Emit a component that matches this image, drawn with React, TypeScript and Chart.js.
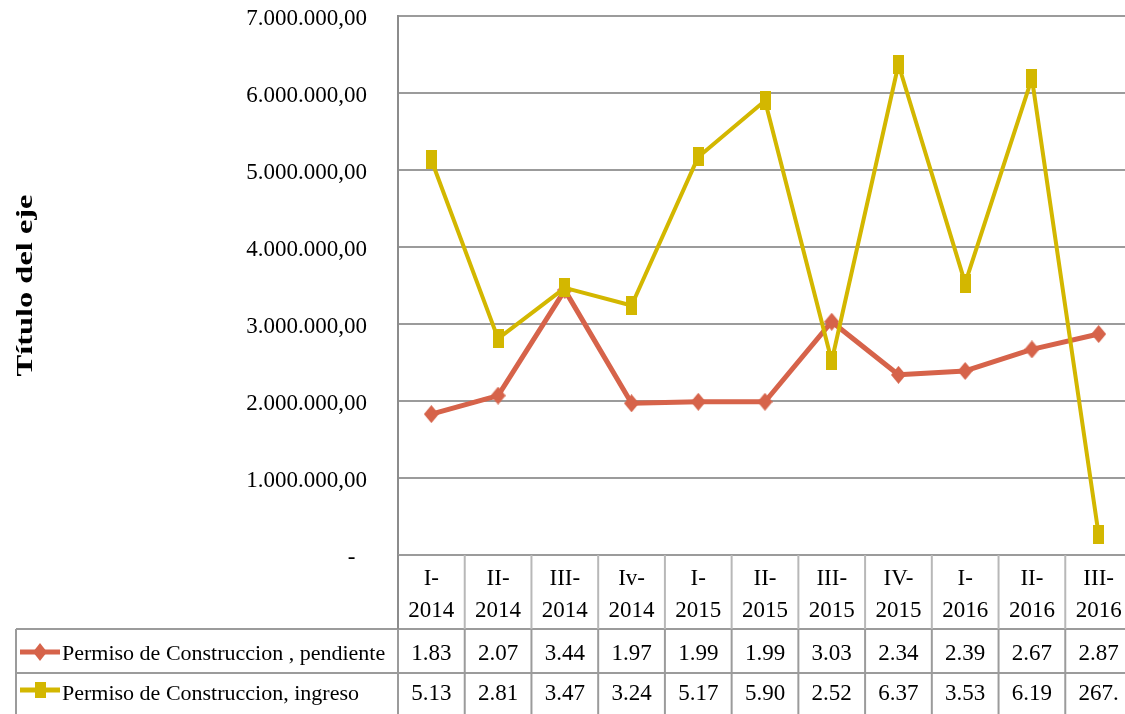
import React, { useEffect, useRef } from "react";
import { Chart, registerables } from "chart.js";

Chart.register(...registerables);

const categories = [
  "I-2014", "II-2014", "III-2014", "Iv-2014", "I-2015", "II-2015",
  "III-2015", "IV-2015", "I-2016", "II-2016", "III-2016",
];
const seriesNames = [
  "Permiso de Construccion , pendiente",
  "Permiso de Construccion, ingreso",
];
const pendiente = [
  1830000, 2070000, 3440000, 1970000, 1990000, 1990000,
  3030000, 2340000, 2390000, 2670000, 2870000,
];
const ingreso = [
  5130000, 2810000, 3470000, 3240000, 5170000, 5900000,
  2520000, 6370000, 3530000, 6190000, 267000,
];
const yMax = 7000000;
const yStep = 1000000;
const axisTitle = "Título del eje";

const ORANGE = "#D6634A";
const YELLOW = "#D3B700";
const FONT = "'Liberation Serif', 'Times New Roman', serif";

function fmt(v: number): string {
  const int = Math.round(v).toString().replace(/\B(?=(\d{3})+(?!\d))/g, ".");
  return int + ",00";
}

function makeDiamond(w: number, h: number, color: string) {
  const c = document.createElement("canvas");
  c.width = w;
  c.height = h;
  const g = c.getContext("2d")!;
  g.fillStyle = color;
  g.beginPath();
  g.moveTo(w / 2, 0);
  g.lineTo(w, h / 2);
  g.lineTo(w / 2, h);
  g.lineTo(0, h / 2);
  g.closePath();
  g.fill();
  return c;
}

function makeRect(w: number, h: number, color: string) {
  const c = document.createElement("canvas");
  c.width = w;
  c.height = h;
  const g = c.getContext("2d")!;
  g.fillStyle = color;
  g.fillRect(0, 0, w, h);
  return c;
}

export default function App() {
  const ref = useRef<HTMLCanvasElement | null>(null);

  useEffect(() => {
    if (!ref.current) return;
    const diamond = makeDiamond(15, 18, ORANGE);
    const square = makeRect(11, 19, YELLOW);
    const legendDiamond = makeDiamond(14, 18, ORANGE);
    const legendSquare = makeRect(11, 16, YELLOW);

    const tablePlugin = {
      id: "dataTable",
      beforeDraw(chart: any) {
        const c = chart.ctx;
        c.save();
        c.fillStyle = "#ffffff";
        c.fillRect(0, 0, chart.width, chart.height);
        c.restore();
      },
      afterDraw(chart: any) {
        const c = chart.ctx as CanvasRenderingContext2D;
        const { left, right, top, bottom } = chart.chartArea;
        const n = categories.length;
        const colW = (right - left) / n;
        const headerBottom = 629;
        const row1Bottom = 673;
        const row2Bottom = 715;
        const tableLeft = 16;
        c.save();
        c.lineWidth = 2;
        const line = (x1: number, y1: number, x2: number, y2: number) => {
          c.beginPath();
          c.moveTo(x1, y1);
          c.lineTo(x2, y2);
          c.stroke();
        };
        c.strokeStyle = "#9b9b9b";
        line(left, bottom, right, bottom);
        line(tableLeft, headerBottom, right, headerBottom);
        line(tableLeft, row1Bottom, right, row1Bottom);
        line(tableLeft, headerBottom, tableLeft, row2Bottom);
        for (let i = 0; i <= n; i++) {
          const x = left + i * colW;
          c.strokeStyle = i === 0 ? "#8c8c8c" : "#b8b8b8";
          line(x, bottom, x, headerBottom);
          c.strokeStyle = "#9b9b9b";
          line(x, headerBottom, x, row2Bottom);
        }

        c.fillStyle = "#000";
        c.font = `23px ${FONT}`;
        c.textAlign = "center";
        c.textBaseline = "alphabetic";
        categories.forEach((cat, i) => {
          const cx = left + (i + 0.5) * colW;
          const k = cat.indexOf("-") + 1;
          c.fillText(cat.slice(0, k), cx, 585);
          c.fillText(cat.slice(k), cx, 617);
          c.fillText(fmt(pendiente[i]).slice(0, 4), cx, 660);
          c.fillText(fmt(ingreso[i]).slice(0, 4), cx, 700);
        });

        // legend keys
        const rows = [
          { y: 652, base: 660, color: ORANGE, img: legendDiamond },
          { y: 690, base: 700, color: YELLOW, img: legendSquare },
        ];
        c.font = `22px ${FONT}`;
        rows.forEach((r, i) => {
          c.strokeStyle = r.color;
          c.lineWidth = 5;
          c.lineCap = "butt";
          line(20, r.y, 60, r.y);
          c.drawImage(r.img, 40 - r.img.width / 2, r.y - r.img.height / 2);
          c.fillStyle = "#000";
          c.textAlign = "left";
          c.fillText(seriesNames[i], 62, r.base);
        });

        // axis title, rotated
        c.save();
        c.font = `bold 24px ${FONT}`;
        const w = c.measureText(axisTitle).width;
        const target = 182;
        c.translate(26, (top + bottom) / 2);
        c.rotate(-Math.PI / 2);
        c.scale(target / w, 1);
        c.textAlign = "center";
        c.textBaseline = "middle";
        c.fillText(axisTitle, 0, 0);
        c.restore();

        c.restore();
      },
    };

    const chart = new Chart(ref.current, {
      type: "line",
      data: {
        labels: categories,
        datasets: [
          {
            label: seriesNames[0],
            data: pendiente,
            borderColor: ORANGE,
            backgroundColor: ORANGE,
            borderWidth: 5,
            pointStyle: diamond as any,
            pointRadius: 8,
            borderJoinStyle: "round",
            order: 1,
          },
          {
            label: seriesNames[1],
            data: ingreso,
            borderColor: YELLOW,
            backgroundColor: YELLOW,
            borderWidth: 4,
            pointStyle: square as any,
            pointRadius: 8,
            borderJoinStyle: "round",
            order: 0,
          },
        ],
      },
      options: {
        responsive: false,
        animation: false,
        layout: { autoPadding: false, padding: { top: 16, bottom: 159, left: 0, right: 0 } },
        plugins: {
          legend: { display: false },
          tooltip: { enabled: false },
        },
        scales: {
          x: {
            display: false,
            offset: true,
            ticks: { display: false },
            grid: { display: false },
          },
          y: {
            min: 0,
            max: yMax,
            ticks: {
              stepSize: yStep,
              padding: 0,
              labelOffset: 3,
              color: "#000",
              font: { family: FONT, size: 23 },
              callback: (v: any) => (Number(v) === 0 ? "-  " : fmt(Number(v))),
            },
            grid: {
              color: "#9b9b9b",
              lineWidth: 2,
              drawTicks: true,
              tickLength: 31,
              tickColor: "rgba(0,0,0,0)",
            },
            border: { color: "#8c8c8c", width: 2 },
            title: { display: false },
            afterFit: (scale: any) => {
              scale.width = 398;
            },
          },
        },
      },
      plugins: [tablePlugin],
    });
    return () => chart.destroy();
  }, []);

  return (
    <div
      style={{
        position: "fixed",
        left: 0,
        top: 0,
        width: 1125,
        height: 714,
        overflow: "hidden",
        background: "#fff",
      }}
    >
      <canvas ref={ref} width={1132} height={714} style={{ width: 1132, height: 714, display: "block" }} />
    </div>
  );
}
